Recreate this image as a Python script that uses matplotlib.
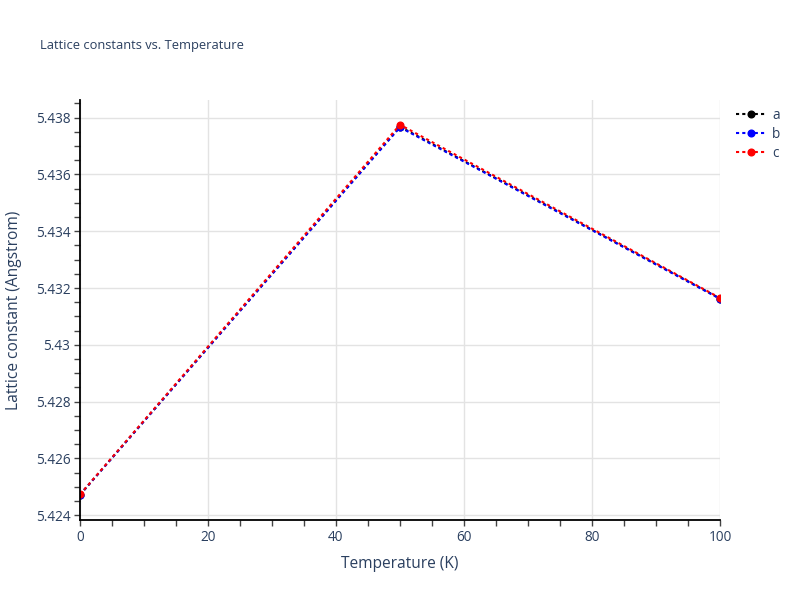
import matplotlib
matplotlib.use("Agg")
import matplotlib.pyplot as plt
from matplotlib.ticker import MultipleLocator, FuncFormatter

temperature = [0, 50, 100]
a_vals = [5.42472, 5.43768, 5.43163]
b_vals = [5.42472, 5.43766, 5.43162]
c_vals = [5.42473, 5.43775, 5.43165]
series_names = ["a", "b", "c"]
series_colors = ["black", "blue", "red"]

plt.rcParams["font.family"] = ["Open Sans", "DejaVu Sans"]

fig = plt.figure(figsize=(8, 6), dpi=100)
ax = fig.add_axes([0.1, 0.1333, 0.8, 0.7])

text_color = "#2a3f5f"
for name, vals, col in zip(series_names, [a_vals, b_vals, c_vals], series_colors):
    ax.plot(temperature, vals, linestyle=(0, (1.5, 1.5)), linewidth=1.5, color=col,
            marker="o", markersize=4.8, label=name)

ax.set_xlim(0, 100)
ax.set_ylim(5.42383, 5.43862)
ax.xaxis.set_major_locator(MultipleLocator(20))
ax.xaxis.set_minor_locator(MultipleLocator(5))
ax.yaxis.set_major_locator(MultipleLocator(0.002))
ax.yaxis.set_minor_locator(MultipleLocator(0.0005))
ax.yaxis.set_major_formatter(FuncFormatter(lambda v, p: f"{v:.3f}".rstrip("0").rstrip(".")))

ax.grid(True, which="major", color="#e3e3e3", linewidth=1)
ax.set_axisbelow(True)
for s in ["top", "right"]:
    ax.spines[s].set_visible(False)
for s in ["left", "bottom"]:
    ax.spines[s].set_color("black")
    ax.spines[s].set_linewidth(1.3)
ax.tick_params(which="both", direction="out", length=4, width=1, color="#444444",
               labelsize=9.8, labelcolor=text_color, pad=3)

ax.set_xlabel("Temperature (K)", fontsize=11.2, color=text_color, labelpad=8)
ax.set_ylabel("Lattice constant (Angstrom)", fontsize=11.2, color=text_color, labelpad=10)
fig.text(0.05, 0.925, "Lattice constants vs. Temperature", fontsize=9.3, color=text_color, va="center")

leg = ax.legend(loc="upper left", bbox_to_anchor=(1.01, 1.004), frameon=False, fontsize=9.8,
                handlelength=2.2, handletextpad=0.45, labelspacing=0.3,
                labelcolor=text_color, borderaxespad=0.3)

fig.savefig("out.png", dpi=100)
